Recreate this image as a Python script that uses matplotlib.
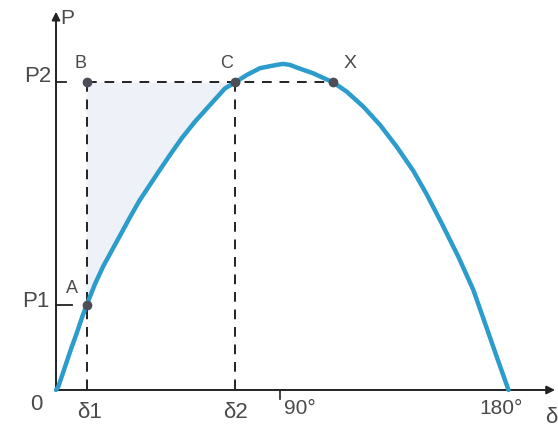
import matplotlib as mpl
import matplotlib.pyplot as plt
import numpy as np

mpl.rcParams['font.family'] = ['Liberation Sans', 'DejaVu Sans']

# power-angle curve, delta in degrees, P in per unit of Pmax
delta_deg = [0.0, 0.91, 3.58, 5.85, 8.23, 10.46, 12.21, 15.51, 18.82, 22.79,
             26.13, 29.44, 33.14, 40.69, 45.35, 50.0, 55.29, 61.26, 67.23,
             71.21, 75.86, 81.15, 87.79, 90.3, 93.08, 95.75, 102.35, 110.31,
             115.64, 122.24, 128.88, 135.53, 142.13, 147.46, 153.43, 160.03,
             166.0, 170.65, 175.31, 180.0]
power = [0.0, 0.010, 0.071, 0.123, 0.174, 0.225, 0.261, 0.325, 0.380, 0.436,
         0.483, 0.530, 0.580, 0.668, 0.721, 0.772, 0.823, 0.874, 0.925,
         0.943, 0.966, 0.987, 0.997, 1.0, 0.997, 0.989, 0.971, 0.943,
         0.915, 0.869, 0.813, 0.746, 0.672, 0.600, 0.511, 0.409,
         0.307, 0.205, 0.102, 0.0]

delta1, p1 = 12.21, 0.261
delta2, p2 = 71.21, 0.943
delta_x = 110.31

CURVE_COLOR = '#2b9ccb'
TEXT_COLOR = '#4a4a4a'
DOT_COLOR = '#4d4d55'
LINE_COLOR = '#222222'

fig = plt.figure(figsize=(5.58, 4.28), dpi=100)
ax = fig.add_axes([0, 0, 1, 1])
ax.set_xlim(-22.28, 199.69)
ax.set_ylim(-0.1166, 1.196)
ax.axis('off')

# shaded area between P2 and the curve, from delta1 to delta2
i_a = delta_deg.index(delta1)
i_c = delta_deg.index(delta2)
poly_x = [delta1] + delta_deg[i_a:i_c + 1]
poly_y = [p2] + power[i_a:i_c + 1]
ax.fill(poly_x, poly_y, color='#eef1f7', lw=0, zorder=1)

# axes with arrows
ax.annotate('', xy=(0, 1.16), xytext=(0, 0),
            arrowprops=dict(arrowstyle='-|>', color=LINE_COLOR, lw=1.4,
                            mutation_scale=12, shrinkA=0, shrinkB=0))
ax.annotate('', xy=(198.5, 0), xytext=(0, 0),
            arrowprops=dict(arrowstyle='-|>', color=LINE_COLOR, lw=1.4,
                            mutation_scale=12, shrinkA=0, shrinkB=0))
ax.plot([89, 89], [0, -0.028], color=LINE_COLOR, lw=1.2)

# construction lines
ax.plot([0, 6.4], [p1, p1], color=LINE_COLOR, lw=1.3, zorder=2)
ax.plot([0, 4.0], [p2, p2], color=LINE_COLOR, lw=1.3, zorder=2)
ax.plot([delta1, delta_x], [p2, p2], color=LINE_COLOR, lw=1.4,
        dashes=(5, 4), zorder=2)
ax.plot([delta1, delta1], [p2, 0], color=LINE_COLOR, lw=1.4,
        dashes=(5, 4), zorder=2)
ax.plot([delta2, delta2], [p2, 0], color=LINE_COLOR, lw=1.4,
        dashes=(5, 4), zorder=2)

ax.plot(delta_deg, power, color=CURVE_COLOR, lw=3.2, solid_capstyle='round',
        solid_joinstyle='round', zorder=3)

ax.plot([delta1, delta1, delta2, delta_x], [p1, p2, p2, p2], 'o',
        color=DOT_COLOR, ms=6, zorder=4)

# labels
ax.text(4.4, 1.138, 'P', fontsize=15, color=TEXT_COLOR, ha='center', va='center')
ax.text(-1.8, p2 + 0.018, 'P2', fontsize=16, color=TEXT_COLOR, ha='right', va='center')
ax.text(-2.5, p1 + 0.01, 'P1', fontsize=16, color=TEXT_COLOR, ha='right', va='center')
ax.text(-8.0, -0.046, '0', fontsize=16, color=TEXT_COLOR, ha='center', va='center')
ax.text(delta1 + 1.2, -0.068, 'δ1', fontsize=16, color=TEXT_COLOR, ha='center', va='center')
ax.text(delta2, -0.068, 'δ2', fontsize=16, color=TEXT_COLOR, ha='center', va='center')
ax.text(90.5, -0.056, '90°', fontsize=15, color=TEXT_COLOR, ha='left', va='center')
ax.text(177, -0.056, '180°', fontsize=15, color=TEXT_COLOR, ha='center', va='center')
ax.text(199.4, -0.085, 'δ', fontsize=16, color=TEXT_COLOR, ha='right', va='center')

ax.text(6.4, 0.312, 'A', fontsize=13, color=TEXT_COLOR, ha='center', va='center')
ax.text(9.6, 1.0, 'B', fontsize=13, color=TEXT_COLOR, ha='center', va='center')
ax.text(67.7, 1.0, 'C', fontsize=13, color=TEXT_COLOR, ha='center', va='center')
ax.text(117, 1.0, 'X', fontsize=14, color=TEXT_COLOR, ha='center', va='center')

fig.savefig('out.png', dpi=100)
